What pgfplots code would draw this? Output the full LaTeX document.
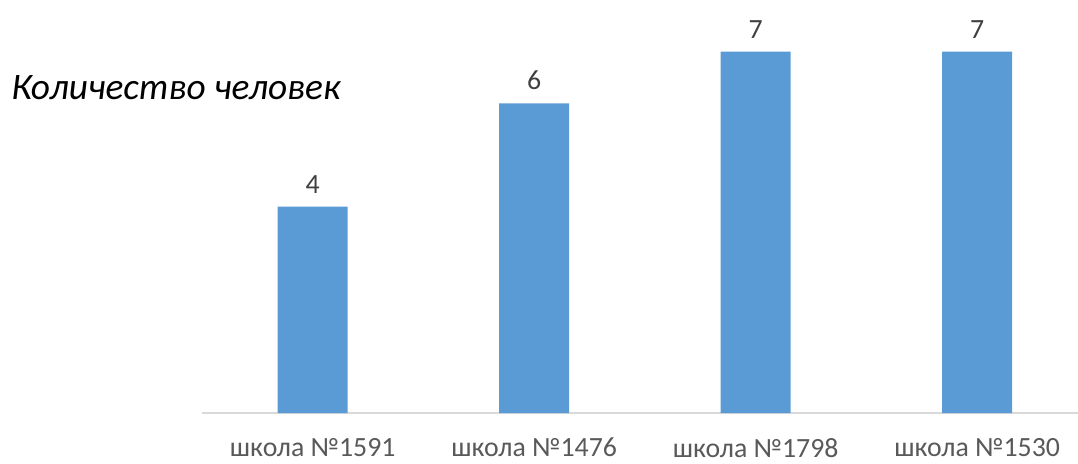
\documentclass[border=0pt]{standalone}
\usepackage{pgfplots}
\pgfplotsset{compat=1.18}
\usepackage{fontspec}
\setmainfont{Carlito}
\definecolor{barblue}{HTML}{5B9BD5}
\definecolor{lblgray}{HTML}{595959}
\definecolor{valgray}{HTML}{404040}
\definecolor{axgray}{HTML}{D9D9D9}
\begin{document}
\begin{tikzpicture}
\useasboundingbox (0,0) rectangle (539pt,231.5pt);
\node[anchor=west,font=\fontsize{18.7}{22}\selectfont\itshape,inner sep=0pt] at (5.5pt,187.5pt) {Количество человек};
\begin{axis}[
  at={(101pt,25pt)}, anchor=south west,
  scale only axis, width=438pt, height=206.5pt,
  xmin=-0.5, xmax=3.455, ymin=0, ymax=8,
  /pgf/number format/assume math mode=true,
  axis y line=none,
  axis x line*=bottom,
  x axis line style={draw=axgray, line width=0.8pt, -},
  xtick={0,1,2,3}, xticklabels={школа №1591,школа №1476,школа №1798,школа №1530},
  major tick length=0pt,
  xticklabel style={font=\fontsize{13.9}{16}\selectfont, text=lblgray, yshift=-9pt},
  ybar, bar width=35pt,
  nodes near coords,
  every node near coord/.append style={font=\fontsize{13.9}{16}\selectfont, text=valgray, yshift=3pt},
  clip=false,
]
\addplot[fill=barblue, draw=none] coordinates {(0,4) (1,6) (2,7) (3,7)};
\end{axis}
\end{tikzpicture}
\end{document}
